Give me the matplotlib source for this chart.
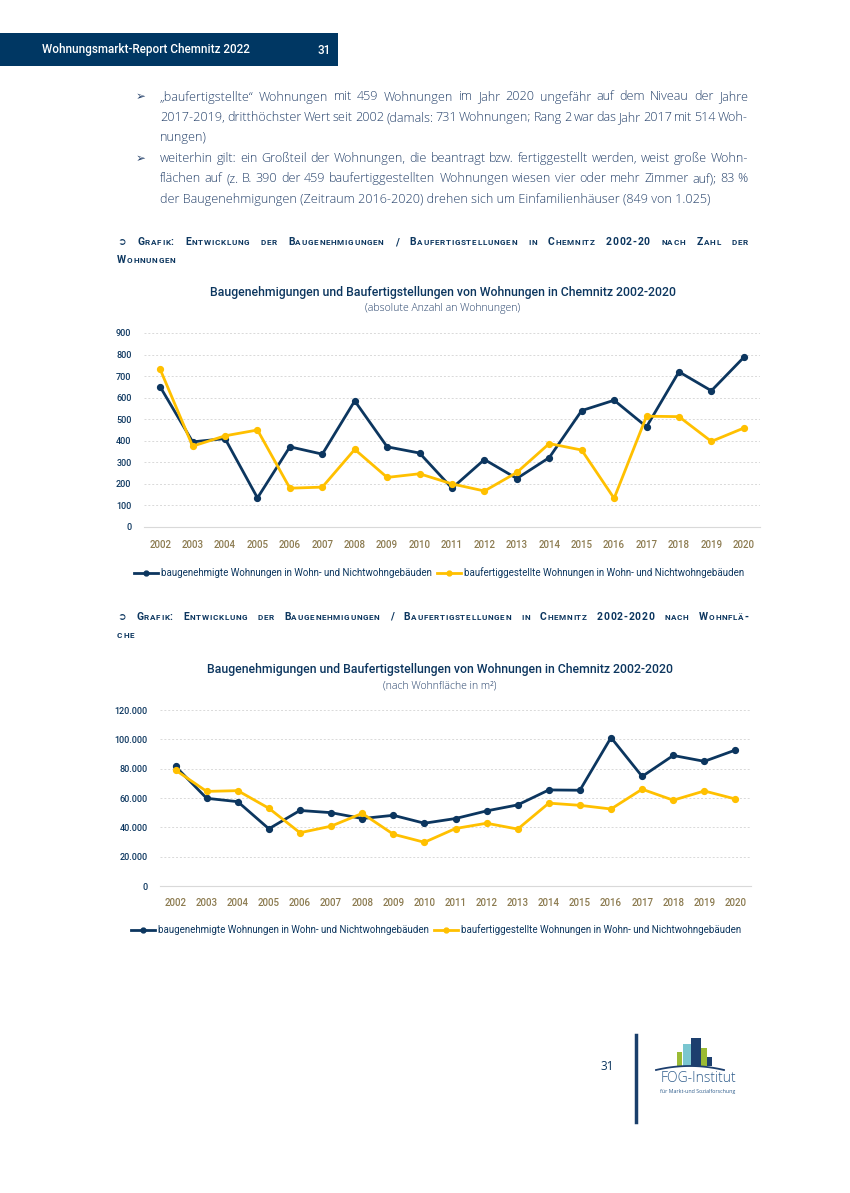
import matplotlib
matplotlib.use("Agg")
import numpy as np
import matplotlib.pyplot as plt
from matplotlib.lines import Line2D
from matplotlib.patches import Rectangle
from matplotlib.ticker import FuncFormatter

# Daten
years = [str(y) for y in range(2002, 2021)]
genehmigt_anzahl = [650, 395, 410, 135, 372, 338, 585, 372, 343, 180, 313, 225, 322, 540, 588, 465, 720, 632, 787]
fertig_anzahl = [731, 375, 423, 450, 180, 185, 360, 230, 247, 200, 167, 253, 387, 357, 133, 514, 512, 397, 459]
genehmigt_flaeche = [81500, 59800, 57500, 39000, 51500, 50000, 46000, 48200, 42800, 46000, 51200, 55300,
                     65500, 65300, 101200, 74700, 89000, 85000, 92700]
fertig_flaeche = [79000, 64500, 65000, 53000, 36300, 40800, 49500, 35300, 29800, 39200, 42800, 38800,
                  56500, 55000, 52500, 66000, 58500, 64800, 59300]
label_genehmigt = "baugenehmigte Wohnungen in Wohn- und Nichtwohngebäuden"
label_fertig = "baufertiggestellte Wohnungen in Wohn- und Nichtwohngebäuden"

# Farben
NAVY = "#0c365f"
YELLOW = "#ffc000"
TEXT = "#26426b"
OLIVE = "#8c7b50"
GRID = "#d9d9d9"

W, H = 850, 1193
fig = plt.figure(figsize=(W / 100, H / 100), dpi=100)
renderer = fig.canvas.get_renderer()

CHART_FONT = ["Roboto", "DejaVu Sans"]
BODY_FONT = ["Open Sans", "DejaVu Sans"]


def fx(x):
    return x / W


def fy(y):
    return 1 - y / H


_cache = {}


def text_width(s, sz, **kw):
    if s == "":
        return 0.0
    key = (s, sz, kw.get("fontweight"), tuple(kw.get("family", [])))
    if key not in _cache:
        t = fig.text(0, 0, s, fontsize=sz, **kw)
        _cache[key] = t.get_window_extent(renderer).width
        t.remove()
    return _cache[key]


def run_width(s, sz, track, **kw):
    return text_width(s, sz, **kw) + track * (len(s) - 1)


def draw_run(x, y, s, sz, track, **kw):
    if track == 0:
        fig.text(fx(x), fy(y), s, fontsize=sz, va="baseline", ha="left", **kw)
        return
    for i, c in enumerate(s):
        xc = x + text_width(s[:i], sz, **kw) + track * i
        fig.text(fx(xc), fy(y), c, fontsize=sz, va="baseline", ha="left", **kw)


def justify(words, x0, x1, y, justified=True, track=0, **kw):
    # words are lists of runs (text, size)
    widths = [sum(run_width(s, sz, track, **kw) + track for s, sz in runs) - track for runs in words]
    sz0 = words[0][0][1]
    space = text_width("a a", sz0, **kw) - text_width("aa", sz0, **kw) + 2 * track
    if justified and len(words) > 1:
        gap = (x1 - x0 - sum(widths)) / (len(words) - 1)
    else:
        gap = space
    x = x0
    for runs, w in zip(words, widths):
        xr = x
        for s, sz in runs:
            draw_run(xr, y, s, sz, track, **kw)
            xr += run_width(s, sz, track, **kw) + track
        x += w + gap


def plain_words(line, size):
    return [[(w, size)] for w in line.split(" ")]


def small_caps_words(line, big, small):
    out = []
    for word in line.split(" "):
        runs = []
        for ch in word:
            if ch.islower():
                part, sz = ch.upper(), small
            else:
                part, sz = ch, big
            if runs and runs[-1][1] == sz:
                runs[-1] = (runs[-1][0] + part, sz)
            else:
                runs.append((part, sz))
        out.append(runs)
    return out


# Kopfzeile
fig.add_artist(Rectangle((0, fy(66)), fx(338), (66 - 33) / H, transform=fig.transFigure,
                         facecolor="#003763", edgecolor="none"))
fig.text(fx(42), fy(50), "Wohnungsmarkt-Report Chemnitz 2022", color="white", fontsize=8.4,
         fontweight="medium", family=CHART_FONT, va="center")
fig.text(fx(318), fy(50), "31", color="white", fontsize=8.4, fontweight="medium", family=CHART_FONT,
         va="center")

# Fliesstext
body_kw = dict(family=BODY_FONT, color=TEXT, fontweight="light")
body_size = 9.1
lines = [
    ("„baufertigstellte“ Wohnungen mit 459 Wohnungen im Jahr 2020 ungefähr auf dem Niveau der Jahre", 100.5, True),
    ("2017-2019, dritthöchster Wert seit 2002 (damals: 731 Wohnungen; Rang 2 war das Jahr 2017 mit 514 Woh-", 121, True),
    ("nungen)", 141.5, False),
    ("weiterhin gilt: ein Großteil der Wohnungen, die beantragt bzw. fertiggestellt werden, weist große Wohn-", 162, True),
    ("flächen auf (z. B. 390 der 459 baufertiggestellten Wohnungen wiesen vier oder mehr Zimmer auf); 83 %", 182.5, True),
    ("der Baugenehmigungen (Zeitraum 2016-2020) drehen sich um Einfamilienhäuser (849 von 1.025)", 203, False),
]
for line, y, just in lines:
    if just:
        justify(plain_words(line, body_size), 160, 748, y, justified=True, **body_kw)
    else:
        fig.text(fx(160), fy(y), line, fontsize=body_size, va="baseline", **body_kw)
for y in (100.5, 162):
    fig.text(fx(136), fy(y), "➢", fontsize=8.5, color=TEXT, family=["DejaVu Sans"], va="baseline")

# Ueberschriften
head_kw = dict(family=CHART_FONT, color=NAVY, fontweight="bold")
heads = [
    ("➲ Grafik: Entwicklung der Baugenehmigungen / Baufertigstellungen in Chemnitz 2002-20 nach Zahl der", 245, True),
    ("Wohnungen", 263, False),
    ("➲ Grafik: Entwicklung der Baugenehmigungen / Baufertigstellungen in Chemnitz 2002-2020 nach Wohnflä-", 620, True),
    ("che", 638, False),
]
for line, y, just in heads:
    justify(small_caps_words(line, 7.5, 5.9), 117, 748, y, justified=just, track=0.7, **head_kw)


def draw_chart(pos, ylim, yticks, a, b, title, subtitle, title_xy, legend_xy, fmt=None):
    left, right, bottom, top = pos
    ax = fig.add_axes([fx(left), fy(bottom), (right - left) / W, (bottom - top) / H])
    x = list(range(len(years)))
    ax.plot(x, a, color=NAVY, lw=2, marker="o", ms=4.2, label=label_genehmigt, zorder=3)
    ax.plot(x, b, color=YELLOW, lw=2, marker="o", ms=4.2, label=label_fertig, zorder=3)
    ax.set_xlim(-0.5, len(years) - 0.5)
    ax.set_ylim(*ylim)
    ax.set_yticks(yticks)
    if fmt:
        ax.yaxis.set_major_formatter(FuncFormatter(fmt))
    ax.set_xticks(x)
    ax.set_xticklabels(years)
    for s in ["top", "left", "right"]:
        ax.spines[s].set_visible(False)
    ax.spines["bottom"].set_color(GRID)
    ax.tick_params(axis="both", length=0)
    ax.tick_params(axis="x", pad=9, labelsize=7, labelcolor=OLIVE)
    ax.tick_params(axis="y", pad=9, labelsize=6.5, labelcolor=NAVY)
    for lab in ax.get_xticklabels() + ax.get_yticklabels():
        lab.set_family(CHART_FONT)
        lab.set_fontweight("medium")
    ax.grid(axis="y", color=GRID, linestyle=(0, (2, 2)), lw=0.7)
    ax.set_axisbelow(True)
    ax.patch.set_alpha(0)
    fig.text(fx(title_xy[0]), fy(title_xy[1]), title, ha="center", va="center", fontsize=8.8,
             color=NAVY, family=CHART_FONT, fontweight="medium")
    fig.text(fx(title_xy[0]), fy(title_xy[1] + 16), subtitle, ha="center", va="center", fontsize=7.6,
             color=TEXT, family=BODY_FONT, fontweight="light")
    handles = [Line2D([], [], color=NAVY, lw=2, marker="o", ms=3.5),
               Line2D([], [], color=YELLOW, lw=2, marker="o", ms=3.5)]
    leg = fig.legend(handles, [label_genehmigt, label_fertig], loc="center", ncol=2, frameon=False,
                     bbox_to_anchor=(fx(legend_xy[0]), fy(legend_xy[1])),
                     handlelength=2.4, handletextpad=0.3, columnspacing=0.6,
                     prop={"family": CHART_FONT, "size": 7.0})
    for t in leg.get_texts():
        t.set_color(NAVY)
    return ax


draw_chart((144, 760, 527, 333), (0, 900), range(0, 901, 100), genehmigt_anzahl, fertig_anzahl,
           "Baugenehmigungen und Baufertigstellungen von Wohnungen in Chemnitz 2002-2020",
           "(absolute Anzahl an Wohnungen)", (443, 293), (439, 573))

draw_chart((160, 751, 886, 710), (0, 120000), range(0, 120001, 20000), genehmigt_flaeche, fertig_flaeche,
           "Baugenehmigungen und Baufertigstellungen von Wohnungen in Chemnitz 2002-2020",
           "(nach Wohnfläche in m²)", (440, 670), (436, 930),
           fmt=lambda v, p: f"{int(v):,}".replace(",", "."))

# Fusszeile mit Logo
fig.add_artist(Line2D([fx(636), fx(636)], [fy(1035), fy(1122)], transform=fig.transFigure,
                      color="#1a3f6b", lw=2.5))
fig.text(fx(607), fy(1067), "31", fontsize=8.5, color=NAVY, family=BODY_FONT, ha="center", va="center")
buildings = [
    (677, 682, 1052, "#9bbb34"),
    (682.5, 691, 1044, "#7ac6d0"),
    (691, 700.5, 1038, "#1d3f6e"),
    (700.5, 707, 1048, "#9bbb34"),
    (707, 712, 1057, "#1d3f6e"),
]
for x0, x1, ytop, c in buildings:
    fig.add_artist(Rectangle((fx(x0), fy(1066)), (x1 - x0) / W, (1066 - ytop) / H,
                             transform=fig.transFigure, facecolor=c, edgecolor="none"))
sx = np.linspace(656, 724, 30)
sy = 1066 + 4 * ((sx - 690) / 34) ** 2
fig.add_artist(Line2D(fx(sx), fy(sy), transform=fig.transFigure, color="#1d3f6e", lw=1.3))
fig.text(fx(698), fy(1079), "FOG-Institut", fontsize=10, color="#2f5d8c", family=BODY_FONT,
         fontweight="light", ha="center", va="center")
fig.text(fx(698), fy(1091), "für Markt-und Sozialforschung", fontsize=3.8, color="#2f5d8c",
         family=BODY_FONT, ha="center", va="center")

fig.savefig("out.png", dpi=100)
